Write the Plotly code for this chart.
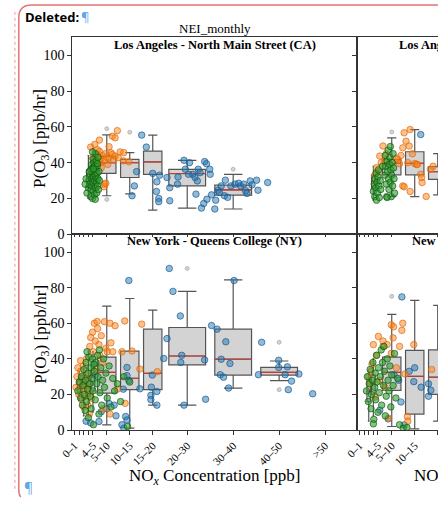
import plotly.graph_objects as go

W, H = 438, 505
SERIF = "Liberation Serif"

# ---------------- data ----------------
bin_labels = ["0–1", "1–2", "2–3", "3–4", "4–5", "5–10", "10–15", "15–20", "20–30", "30–40", "40–50", ">50"]
bin_lo = [0, 1, 2, 3, 4, 5, 10, 15, 20, 30, 40, 50]
bin_hi = [1, 2, 3, 4, 5, 10, 15, 20, 30, 40, 50, 60]
tick_text = ["0–1", " ", " ", " ", "4–5", "5–10", "10–15", "15–20", "20–30", "30–40", "40–50", ">50"]
y_ticks = [0, 20, 40, 60, 80, 100]

# Los Angeles - North Main Street (CA)
la1_bins = ["3–4", "4–5", "5–10", "10–15", "15–20", "20–30", "30–40"]
la1_q1 = [26, 34, 34, 31.7, 33.5, 27, 21.8]
la1_med = [31, 39.5, 40, 40, 40.4, 33.9, 24.8]
la1_q3 = [36, 42.5, 43.5, 41.8, 46.5, 36.3, 27.4]
la1_lo = [20, 24, 21.5, 22.5, 13.5, 14.6, 14.1]
la1_hi = [44, 48, 55.5, 45.6, 55.4, 41.3, 33.5]
la1_flier_bins = ["5–10", "5–10", "10–15", "30–40"]
la1_flier_y = [59, 19.4, 57, 36.3]
la1_green = [(3.2,23),(3.5,26),(3.6,30),(3.8,28),(3.9,33),(4.0,21),(4.0,36),(4.1,25),(4.2,31),(4.2,39),
             (4.3,27),(4.3,34),(4.4,20),(4.4,37),(4.5,29),(4.5,42),(4.6,24),(4.6,32),(4.7,35),(4.7,40),
             (4.8,22),(4.8,30),(4.9,27),(4.9,38),(5.0,33),(5.0,45),(5.1,26),(5.1,36),(5.2,31),(5.2,41),
             (5.3,23),(5.3,29),(5.4,34),(5.4,38),(5.5,27),(5.6,31),(5.6,43),(5.7,25),(5.8,35),(5.9,30),
             (4.4,46),(3.7,35),(5.0,19.5),(4.6,36.5),(5.5,39.5),(2.8,28),(3.0,31)]
la1_orange = [(4.0,48.7),(4.5,42.8),(4.9,50.2),(4.9,38.2),(5.3,45),(5.5,47.2),(5.6,43.7),(5.9,52.6),(5.9,46.3),
              (6.2,40),(6.3,37.2),(6.5,44),(6.9,26.5),(7.0,28),(7.0,41),(7.3,28.5),(7.5,43),(7.7,39),(8.0,48.9),
              (8.0,42.8),(8.4,45.5),(8.7,54.8),(8.7,44.6),(9.0,41.5),(9.3,53.9),(9.3,43.7),(9.8,57.9),(10.0,42.8),
              (10.4,46),(11.1,41),(11.2,45.6),(12.3,40.5),(5.2,40.5),(6.0,42),(7.2,45)]
la1_blue = [(15.1,55.4),(16.1,48.7),(19.0,33),(18.4,29.3),(18.3,23.9),(18.8,20),(18.8,18.2),(21.2,18.7),(21.2,26),
            (20.6,31.7),(22.9,28),(23.0,32),(24.3,41.3),(25.5,40),(24.6,36.3),(25.3,33.5),(26.2,33.5),(26.7,31.7),
            (27.2,29.8),(27.4,36.3),(26.9,22.4),(27.8,34.4),(28.8,40.6),(29.2,39.4),(29.9,36.3),(30.0,33.5),
            (28.1,14.6),(28.6,17.2),(29.3,19.6),(30.3,22),(31.0,14.1),(31.2,19),(31.7,24.6),(32.0,23.3),(32.4,27),
            (33.1,21.5),(33.8,20.6),(33.3,30.2),(34.5,27),(35.4,28),(36.2,28.5),(36.6,27),(37.3,28),(37.7,24.3),
            (38.0,22.8),(38.7,29.8),(39.1,27.6),(40.1,30.2),(40.4,24.6),(42.5,28.9),(13.5,27),(14.0,35),(17.5,34),
            (13.0,21.5)]

# Los Angeles (second site, right column, cropped)
la2_bins = ["3–4", "5–10", "10–15", "15–20"]
la2_q1 = [25.5, 33.2, 33.2, 30.7]
la2_med = [28.5, 39.6, 39.6, 35]
la2_q3 = [33, 41.8, 46.1, 37.8]
la2_lo = [19, 21, 21, 22]
la2_hi = [38, 53.9, 58.5, 45]
la2_flier_bins = ["5–10"]
la2_flier_y = [57.2]
la2_green = [(3.5,24),(3.7,28),(3.8,21),(3.9,31),(4.0,26),(4.1,34),(4.2,19),(4.3,29),(4.4,23),(4.5,32),
             (4.6,36),(4.7,27),(4.8,20.5),(5.0,30),(5.1,25),(6.0,33),(6.1,44),(6.2,38),(6.3,28),(6.4,21),
             (6.5,41),(6.6,35),(6.7,47),(6.8,31),(6.9,25),(7.0,39),(7.1,43),(7.2,29),(7.3,36),(7.4,21),
             (7.5,33),(7.6,40),(7.7,27),(7.8,45),(7.9,37),(8.0,31),(8.1,23),(6.5,20.5),(7.2,49),(5.5,38)]
la2_orange = [(3.8,33),(4.2,37.2),(4.6,35),(4.9,43.7),(5.2,40),(5.6,49.3),(6.0,41),(6.3,45),(8.8,41.8),(9.2,39.4),
              (9.5,44),(9.9,48.3),(9.9,27),(10.2,56.7),(10.2,26.5),(10.6,52),(11.0,40),(11.3,49.3),(11.5,58.5),
              (11.5,23.9),(12.0,45),(12.5,39.5),(12.9,39),(13.1,39),(13.8,33.5),(14.0,31.7),(14.1,28.9),(15.0,21.1),
              (15.9,36.3),(16.5,38),(8.5,42.5),(7.0,39.5)]
la2_blue = [(13.8,55.7)]

# New York - Queens College (NY)
ny1_bins = ["1–2", "2–3", "3–4", "4–5", "5–10", "10–15", "15–20", "20–30", "30–40", "40–50"]
ny1_q1 = [21, 17.7, 19, 22, 20.8, 22.7, 22.7, 36.6, 30.9, 30.9]
ny1_med = [24.5, 25.6, 24.7, 30, 32.4, 29.1, 31.9, 41.6, 39.8, 32.4]
ny1_q3 = [28, 28.7, 29.7, 38, 41, 44.4, 56.7, 57.6, 56.7, 35.2]
ny1_lo = [17, 8, 7.9, 10, 2.9, 1.1, 14, 14, 23.6, 27.8]
ny1_hi = [33, 37, 44.4, 44, 69.6, 73.9, 67.4, 77.9, 84.4, 38.8]
ny1_flier_bins = ["20–30", "40–50", "40–50"]
ny1_flier_y = [90.8, 49.3, 22.7]
ny1_green = [(1.2,22),(1.5,27),(1.8,18),(2.0,30),(2.2,14),(2.3,25),(2.5,34),(2.6,20),(2.8,11),(2.9,28),
             (3.0,38),(3.1,16),(3.3,23),(3.4,32),(3.5,7),(3.6,41),(3.8,26),(3.9,19),(4.0,35),(4.1,12),
             (4.3,29),(4.4,40),(4.5,22),(4.6,3),(4.8,33),(5.0,17),(5.1,38),(5.3,26),(5.5,42),(5.6,30),
             (5.8,9),(6.0,21),(6.2,35),(6.4,14),(6.6,28),(6.8,40),(7.0,24),(7.3,32),(7.6,18),(8.0,36),
             (8.4,13),(8.8,29),(9.2,22),(9.8,26),(10.5,16),(11.2,30),(12.0,2),(12.5,27),(4.7,37),(3.2,44),(5.9,45)]
ny1_orange = [(0.8,24),(1.0,30),(1.2,35),(1.4,20),(1.6,27),(1.8,33),(2.0,17),(2.2,23),(2.4,36),(2.6,29),
              (2.8,19),(3.0,25),(3.2,31),(3.4,14),(3.6,22),(3.8,47),(4.0,52),(4.2,18),(4.4,55),(4.6,44),
              (4.8,60),(5.0,50),(5.2,34),(5.5,57),(5.8,48),(6.0,42),(6.3,53),(6.6,38),(7.0,60.9),(7.3,46),
              (7.6,44),(8.2,60),(8.4,49),(8.8,44),(9.3,58.6),(9.8,23),(5.4,61),(10.8,44),(11.5,15),(2.5,13),
              (3.7,9),(6.8,12),(8.2,9),(1.8,39),(3.1,40),(13.0,44.4),(14.7,34.3),(18.5,32.8),(15.1,59.5),(11.4,61.3)]
ny1_blue = [(12.3,84),(21.1,90.8),(21.9,77.9),(23.5,64.1),(20.6,51.4),(19.9,40.2),(17.2,24.1),(17.1,19.5),
            (17.1,17.1),(18.4,14),(18.4,21.7),(17.4,30.9),(23.8,42),(23.6,38),(24.3,14),(29.0,17.3),(28.8,39.4),
            (30.3,58.7),(11.9,35.2),(11.9,30.6),(12.3,27.8),(11.1,23),(14.7,23.2),(11.6,7.6),(11.9,5.7),(11.2,1.1),
            (9.1,14),(8.0,14.9),(6.3,10.3),(5.8,4.8),(31.5,56.7),(33.4,49.6),(32.4,39.8),(34.3,37.4),(32.2,31.1),
            (32.9,29.7),(34.0,23.6),(35.2,84),(41.2,49.3),(40.5,31.1),(44.9,39.2),(44.9,35.2),(46.8,35.5),
            (46.3,31.1),(49.3,31.5),(47.7,27.5),(47.0,22.7),(52.3,20.4),(3.0,5),(4.0,4),(7.5,12),(9.5,8),
            (2.0,29),(5.0,31),(10.8,3)]

# New York (second site, right column, cropped)
ny2_bins = ["2–3", "3–4", "5–10", "10–15", "15–20"]
ny2_q1 = [16, 20, 22.3, 9, 20]
ny2_med = [22, 26, 32.4, 30.2, 29.7]
ny2_q3 = [28.7, 31, 41, 44.8, 45]
ny2_lo = [5, 8, 2, 0.7, 5]
ny2_hi = [33, 40, 65, 72.9, 70]
ny2_flier_bins = ["5–10"]
ny2_flier_y = [75.1]
ny2_green = [(2.0,22),(2.2,30),(2.4,16),(2.6,26),(2.8,34),(3.0,12),(3.1,20),(3.3,28),(3.4,38),(3.6,6),
             (3.8,24),(3.9,32),(4.0,17),(4.2,42),(4.3,27),(4.5,10),(4.6,35),(4.8,21),(5.0,30),(5.2,45),
             (5.3,14),(5.5,38),(5.7,25),(5.9,33),(6.1,8),(6.3,19),(6.5,40),(6.7,28),(6.9,22),(7.1,36),
             (7.3,13),(7.5,31),(7.8,25),(8.1,43),(8.4,18),(8.8,29),(9.2,3),(10.0,1),(10.8,1.5),(3.5,3.5),(5.8,47)]
ny2_orange = [(7.4,59.1),(7.9,58),(9.9,60),(9.7,56),(7.8,51.8),(4.6,52.6),(5.6,50),(6.5,48),(3.5,48),(9.2,47),
              (5.6,47),(3.2,37),(4.2,42),(7.4,43),(10.4,31.5),(10.9,7.6),(11.0,5),(12.3,48),(16.2,34),(2.8,26),
              (3.9,18.6),(6.8,6.6),(2.5,30),(3.0,33),(4.8,28),(6.0,24),(8.5,35)]
ny2_blue = [(9.7,74.8),(11.3,33),(12.3,27.2),(12.5,35),(13.9,24.1),(9.5,15.8),(15.5,26),(16.0,22.4),(15.5,19),
            (4.9,11.2),(6.7,6.3),(10.2,2.9),(8.0,31),(9.0,28)]

# ---------------- helpers ----------------
def px(x):
    return x / W

def py(y):
    return 1 - y / H

idx = {lab: i for i, lab in enumerate(bin_labels)}
centers = [(a + b) / 2 for a, b in zip(bin_lo, bin_hi)]

fig = go.Figure()

BLUE = dict(color="rgba(31,119,180,0.5)", line=dict(color="rgba(25,85,140,0.85)", width=0.8))
ORANGE = dict(color="rgba(255,127,14,0.5)", line=dict(color="rgba(215,105,20,0.85)", width=0.8))
GREEN = dict(color="rgba(44,160,44,0.6)", line=dict(color="rgba(20,80,20,0.85)", width=0.8))


def add_panel(xa, ya, bins, q1, med, q3, lo, hi, fl_bins, fl_y, blue, orange, green):
    mx, my = [], []
    for b, a1, m, a3, l, h in zip(bins, q1, med, q3, lo, hi):
        i = idx[b]
        c = centers[i]
        w = 0.8 * (bin_hi[i] - bin_lo[i])
        fig.add_trace(go.Box(
            x=[c], q1=[a1], median=[m], q3=[a3], lowerfence=[l], upperfence=[h],
            width=w, fillcolor="#d3d3d3", line=dict(color="#555555", width=1.2),
            whiskerwidth=0.5, boxpoints=False, xaxis=xa, yaxis=ya,
            showlegend=False, hoverinfo="skip"))
        mx += [c - w / 2, c + w / 2, None]
        my += [m, m, None]
    fig.add_trace(go.Scatter(x=mx, y=my, mode="lines", line=dict(color="#d0392b", width=1.1),
                             xaxis=xa, yaxis=ya, showlegend=False, hoverinfo="skip"))
    fig.add_trace(go.Scatter(x=[centers[idx[b]] for b in fl_bins], y=fl_y, mode="markers",
                             marker=dict(size=4, color="rgba(200,200,200,0.8)",
                                         line=dict(color="rgba(150,150,150,0.9)", width=0.6)),
                             xaxis=xa, yaxis=ya, showlegend=False, hoverinfo="skip"))
    for pts, sty in ((blue, BLUE), (orange, ORANGE), (green, GREEN)):
        fig.add_trace(go.Scatter(x=[p[0] for p in pts], y=[p[1] for p in pts], mode="markers",
                                 marker=dict(size=6.5, **sty), xaxis=xa, yaxis=ya,
                                 showlegend=False, hoverinfo="skip"))


add_panel("x", "y", la1_bins, la1_q1, la1_med, la1_q3, la1_lo, la1_hi, la1_flier_bins, la1_flier_y,
          la1_blue, la1_orange, la1_green)
add_panel("x2", "y2", la2_bins, la2_q1, la2_med, la2_q3, la2_lo, la2_hi, la2_flier_bins, la2_flier_y,
          la2_blue, la2_orange, la2_green)
add_panel("x3", "y3", ny1_bins, ny1_q1, ny1_med, ny1_q3, ny1_lo, ny1_hi, ny1_flier_bins, ny1_flier_y,
          ny1_blue, ny1_orange, ny1_green)
add_panel("x4", "y4", ny2_bins, ny2_q1, ny2_med, ny2_q3, ny2_lo, ny2_hi, ny2_flier_bins, ny2_flier_y,
          ny2_blue, ny2_orange, ny2_green)

# ---------------- axes ----------------
LX0, LX1, RX1 = 62, 355, 438
TY0, MY, BY1 = 38, 238, 437
scale = (LX1 - LX0) / 62.0
right_max = (RX1 - LX1) / scale

def xax(dom, rng, labels, anchor):
    return dict(domain=dom, range=rng, anchor=anchor, tickmode="array", tickvals=centers,
                ticktext=tick_text, showticklabels=labels, ticks="outside", ticklen=4 if labels else 2,
                tickcolor="#333", tickwidth=1, showline=True, linecolor="#333", linewidth=1,
                mirror=True, showgrid=False, zeroline=False, tickangle=-45,
                tickfont=dict(family=SERIF, size=11, color="black"))

def yax(dom, labels, anchor, mirror):
    return dict(domain=dom, range=[0, 110], anchor=anchor, tickmode="array", tickvals=y_ticks,
                showticklabels=labels, ticks="outside", ticklen=4, tickcolor="#333", tickwidth=1,
                showline=True, linecolor="#333", linewidth=1, mirror=mirror, showgrid=False,
                zeroline=False, tickfont=dict(family=SERIF, size=14, color="black"))

xl = [px(LX0), px(LX1)]
xr = [px(LX1), 1.0]
yt = [py(MY), py(TY0)]
yb = [py(BY1), py(MY)]

fig.update_layout(
    xaxis=xax(xl, [0, 62], False, "y"),
    yaxis=yax(yt, True, "x", True),
    xaxis2=xax(xr, [0, right_max], False, "y2"),
    yaxis2=yax(yt, False, "x2", False),
    xaxis3=xax(xl, [0, 62], True, "y3"),
    yaxis3=yax(yb, True, "x3", True),
    xaxis4=xax(xr, [0, right_max], True, "y4"),
    yaxis4=yax(yb, False, "x4", False),
)

# ---------------- text ----------------
ann = []
def A(text, x, y, size, xanchor="center", angle=0, family=SERIF, color="black"):
    ann.append(dict(text=text, x=px(x), y=py(y), xref="paper", yref="paper", showarrow=False,
                    xanchor=xanchor, yanchor="middle", textangle=angle, borderpad=0,
                    font=dict(family=family, size=size, color=color)))

cl = (LX0 + LX1) / 2
cr = LX1 + (LX1 - LX0) / 2
A("NEI_monthly", cl, 29, 13)
A("<b>Los Angeles - North Main Street (CA)</b>", cl, 45.5, 12.5)
A("<b>Los Angeles - North Main Street (CA)</b>", cr, 45.5, 12.5)
A("<b>New York - Queens College (NY)</b>", cl, 244.5, 12.5)
A("<b>New York - Queens College (NY)</b>", cr, 244.5, 12.5)
A("P(O<sub>3</sub>) [ppb/hr]", 30, 141, 17, angle=-90)
A("P(O<sub>3</sub>) [ppb/hr]", 30, 340, 17, angle=-90)
A("NO<sub><i>x</i></sub> Concentration [ppb]", cl, 485, 17)
A("NO<sub><i>x</i></sub> Concentration [ppb]", cr, 485, 17)
A("<b>Deleted:</b>", 41, 17, 13, family="Open Sans")
A("¶", 76, 17, 13, family="Open Sans", color="#5fa8e8")
A("¶", 17, 495, 14, family="Open Sans", color="#5fa8e8")

shapes = [
    dict(type="path", xref="paper", yref="paper",
         path=f"M {px(438)},{py(5)} L {px(20)},{py(5)} Q {px(7)},{py(5)} {px(7)},{py(18)} "
              f"L {px(7)},{py(498)} Q {px(7)},{py(503)} {px(9)},{py(505)}",
         line=dict(color="#e57373", width=1.5)),
    dict(type="line", xref="paper", yref="paper", x0=px(3), x1=px(3), y0=py(12), y1=py(498),
         line=dict(color="#ee9a9a", width=1, dash="dot")),
]

fig.update_layout(
    width=W, height=H, margin=dict(l=0, r=0, t=0, b=0),
    paper_bgcolor="white", plot_bgcolor="white",
    boxmode="overlay", showlegend=False,
    annotations=ann, shapes=shapes,
)

fig.write_html("out.html")
